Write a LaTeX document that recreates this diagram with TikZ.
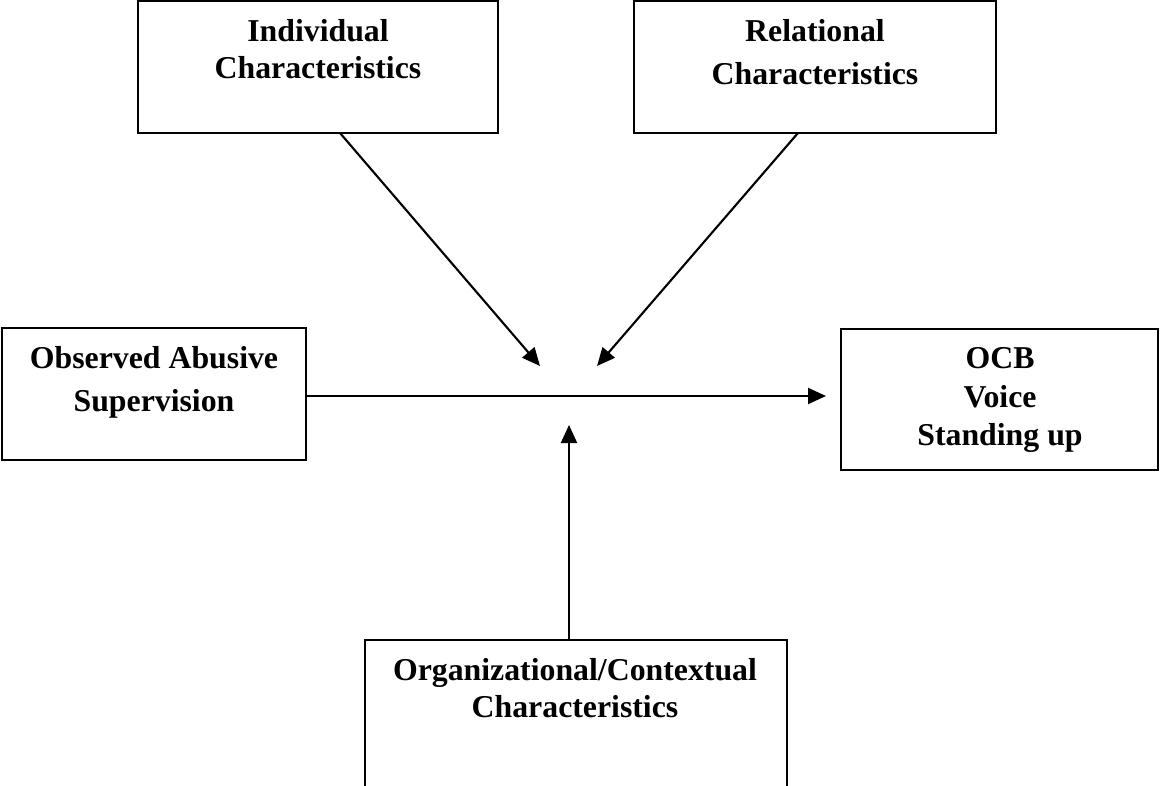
\documentclass[tikz,border=0pt]{standalone}
\usepackage{fontspec}
\setmainfont{Liberation Serif}
\usetikzlibrary{arrows.meta,calc}
\begin{document}
\begin{tikzpicture}[x=1pt,y=-1pt,
  box/.style={draw=black,line width=2.1pt,inner sep=0pt,outer sep=0pt},
  lbl/.style={inner sep=0pt,anchor=base,font=\fontsize{31.8}{37}\selectfont\bfseries},
  conn/.style={line width=2.1pt,-{Triangle[length=18pt,width=16pt]}}]
\clip (0,0) rectangle (1160,786);
% boxes
\node[box,minimum width=360pt,minimum height=132pt] (ind) at (318,67) {};
\node[box,minimum width=362pt,minimum height=132pt] (rel) at (815,67) {};
\node[box,minimum width=304pt,minimum height=132pt] (obs) at (154,394) {};
\node[box,minimum width=317pt,minimum height=141pt] (ocb) at (999.5,399.5) {};
\node[box,minimum width=422pt,minimum height=180pt] (org) at (576,730) {};
% texts
\node[lbl] (indA) at (318,42) {Individual};
\node[lbl] (indB) at (318,79) {Characteristics};
\node[lbl] (relA) at (815,42) {Relational};
\node[lbl] (relB) at (815,85) {Characteristics};
\node[lbl] (obsA) at (154,369) {Observed Abusive};
\node[lbl] (obsB) at (154,411) {Supervision};
\node[lbl] (ocbA) at (1000,369) {OCB};
\node[lbl] (ocbB) at (1000,407) {Voice};
\node[lbl] (ocbC) at (1000,445) {Standing up};
\node[lbl] (orgA) at (575,680) {Organizational/Contextual};
\node[lbl] (orgB) at (575,717) {Characteristics};
% connectors
\coordinate (m) at (569,396);
\draw[conn] (obs.east |- m) -- ($(ocb.west |- m)+(-15,0)$);
\draw[conn] ($(ind.south)+(22,0)$) -- ($(m)+(-29,-30)$);
\draw[conn] ($(rel.south)+(-17,0)$) -- ($(m)+(28,-30)$);
\draw[conn] (org.north -| m) -- ($(m)+(0,29)$);
\end{tikzpicture}
\end{document}
